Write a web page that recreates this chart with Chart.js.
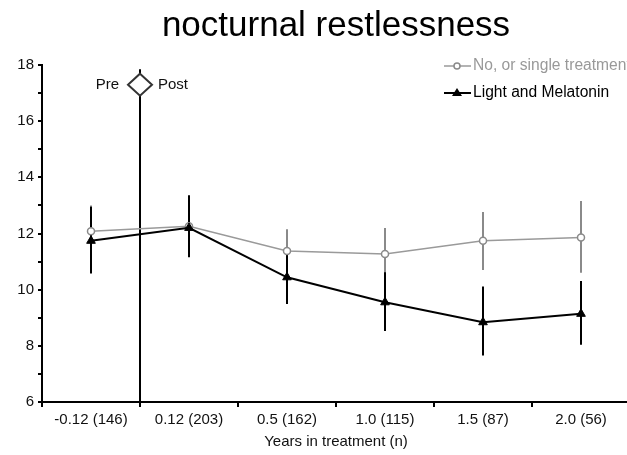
<!DOCTYPE html>
<html>
<head>
<meta charset="utf-8">
<script src="https://cdn.jsdelivr.net/npm/chart.js@4"></script>
<style>
  html, body { margin: 0; padding: 0; background: #fff; }
  /* the source figure is cropped a few pixels into the plot on the right */
  #wrap { width: 627px; height: 455px; overflow: hidden; }
  #chart { display: block; }
</style>
</head>
<body>
<div id="wrap"><canvas id="chart" width="636" height="455"></canvas></div>
<script>
// data
const categories = ['-0.12 (146)', '0.12 (203)', '0.5 (162)', '1.0 (115)', '1.5 (87)', '2.0 (56)'];
const singleMean = [12.08, 12.26, 11.38, 11.27, 11.74, 11.86];
const singleLow  = [11.1, 11.2, 10.6, 10.4, 10.7, 10.6];
const singleHigh = [13.0, 13.3, 12.15, 12.2, 12.77, 13.16];
const comboMean  = [11.74, 12.2, 10.44, 9.55, 8.84, 9.14];
const comboLow   = [10.58, 11.15, 9.49, 8.53, 7.66, 8.04];
const comboHigh  = [12.95, 13.36, 11.4, 10.62, 10.11, 10.31];
const seriesNames = ['No, or single treatment', 'Light and Melatonin'];

const FONT = "'Liberation Sans', Arial, sans-serif";
Chart.defaults.font.family = FONT;
Chart.defaults.color = '#111';

const GRAY_LINE = '#9a9a9a';
const GRAY_BAR = '#8a8a8a';

// error bars, drawn under the markers
const errorBars = {
    id: 'errorBars',
    beforeDatasetsDraw(chart) {
        const ctx = chart.ctx;
        const x = chart.scales.x, y = chart.scales.y;
        const sets = [
            [singleLow, singleHigh, GRAY_BAR, 2],
            [comboLow, comboHigh, '#000', 2]
        ];
        ctx.save();
        // pre / post divider
        const xd = (x.getPixelForValue(0) + x.getPixelForValue(1)) / 2;
        ctx.strokeStyle = '#000';
        ctx.lineWidth = 2;
        ctx.beginPath();
        ctx.moveTo(xd, y.getPixelForValue(17.85));
        ctx.lineTo(xd, y.getPixelForValue(6));
        ctx.stroke();
        sets.forEach(([lo, hi, col, w]) => {
            ctx.strokeStyle = col;
            ctx.lineWidth = w;
            categories.forEach((c, i) => {
                const px = x.getPixelForValue(i);
                ctx.beginPath();
                ctx.moveTo(px, y.getPixelForValue(lo[i]));
                ctx.lineTo(px, y.getPixelForValue(hi[i]));
                ctx.stroke();
            });
        });
        ctx.restore();
    },
    afterDraw(chart) {
        const ctx = chart.ctx;
        const x = chart.scales.x, y = chart.scales.y;
        const area = chart.chartArea;
        ctx.save();
        // diamond with Pre / Post
        const xd = (x.getPixelForValue(0) + x.getPixelForValue(1)) / 2;
        const yd = y.getPixelForValue(17.3);
        ctx.fillStyle = '#fff';
        ctx.strokeStyle = '#333';
        ctx.lineWidth = 2;
        ctx.beginPath();
        ctx.moveTo(xd, yd - 11);
        ctx.lineTo(xd + 12, yd);
        ctx.lineTo(xd, yd + 11);
        ctx.lineTo(xd - 12, yd);
        ctx.closePath();
        ctx.fill();
        ctx.stroke();
        ctx.font = '15px ' + FONT;
        ctx.fillStyle = '#111';
        ctx.textBaseline = 'middle';
        ctx.textAlign = 'right';
        ctx.fillText('Pre', xd - 21, yd);
        ctx.textAlign = 'left';
        ctx.fillText('Post', xd + 18, yd);

        // legend
        ctx.font = '15.6px ' + FONT;
        const lx = area.right - 186;
        const rows = [
            [area.top + 1, GRAY_LINE, 'circle', '#999'],
            [area.top + 28, '#000', 'triangle', '#000']
        ];
        rows.forEach(([ly, col, shape, txt], i) => {
            ctx.strokeStyle = col;
            ctx.lineWidth = i === 0 ? 1.5 : 2;
            ctx.beginPath();
            ctx.moveTo(lx, ly);
            ctx.lineTo(lx + 27, ly);
            ctx.stroke();
            const cx = lx + 13;
            if (shape === 'circle') {
                ctx.fillStyle = '#fff';
                ctx.strokeStyle = GRAY_BAR;
                ctx.beginPath();
                ctx.arc(cx, ly, 3, 0, Math.PI * 2);
                ctx.fill();
                ctx.stroke();
            } else {
                ctx.fillStyle = '#000';
                ctx.beginPath();
                ctx.moveTo(cx, ly - 5);
                ctx.lineTo(cx + 5, ly + 3);
                ctx.lineTo(cx - 5, ly + 3);
                ctx.closePath();
                ctx.fill();
            }
            ctx.fillStyle = txt;
            ctx.textAlign = 'left';
            ctx.fillText(seriesNames[i], lx + 29, ly);
        });
        ctx.restore();
    }
};

new Chart(document.getElementById('chart'), {
    type: 'line',
    data: {
        labels: categories,
        datasets: [{
            label: seriesNames[0],
            data: singleMean,
            borderColor: GRAY_LINE,
            borderWidth: 1.5,
            pointStyle: 'circle',
            pointRadius: 3.5,
            pointBackgroundColor: '#fff',
            pointBorderColor: GRAY_BAR,
            pointBorderWidth: 1.5,
            tension: 0,
            order: 2
        }, {
            label: seriesNames[1],
            data: comboMean,
            borderColor: '#000',
            borderWidth: 2,
            pointStyle: 'triangle',
            pointRadius: 5,
            pointBackgroundColor: '#000',
            pointBorderColor: '#000',
            pointBorderWidth: 1,
            tension: 0,
            order: 1
        }]
    },
    options: {
        responsive: false,
        animation: false,
        layout: { padding: { left: 0, right: 1, top: 0, bottom: 0 } },
        plugins: {
            legend: { display: false },
            tooltip: { enabled: false },
            title: {
                display: true,
                text: 'nocturnal restlessness',
                color: '#000',
                fullSize: false,
                font: { size: 35, weight: 'normal' },
                padding: { top: 5, bottom: 18 }
            }
        },
        scales: {
            x: {
                offset: true,
                grid: { offset: true, drawOnChartArea: false, tickLength: 5, color: '#000', lineWidth: 2 },
                border: { color: '#000', width: 2 },
                ticks: { font: { size: 15 }, padding: 4, maxRotation: 0, color: '#111' },
                title: {
                    display: true,
                    text: 'Years in treatment (n)',
                    font: { size: 15 },
                    color: '#111',
                    padding: { top: 2, bottom: 4 }
                },
                afterFit(s) { s.height = 53; }
            },
            y: {
                min: 6,
                max: 18,
                grid: { drawOnChartArea: false, tickLength: 4, color: '#000', lineWidth: 2 },
                border: { color: '#000', width: 2 },
                ticks: {
                    stepSize: 1,
                    padding: 4,
                    font: { size: 15 },
                    color: '#111',
                    callback: v => (v % 2 === 0 ? v : '')
                },
                afterFit(s) { s.width = 42; }
            }
        }
    },
    plugins: [errorBars]
});
</script>
</body>
</html>
